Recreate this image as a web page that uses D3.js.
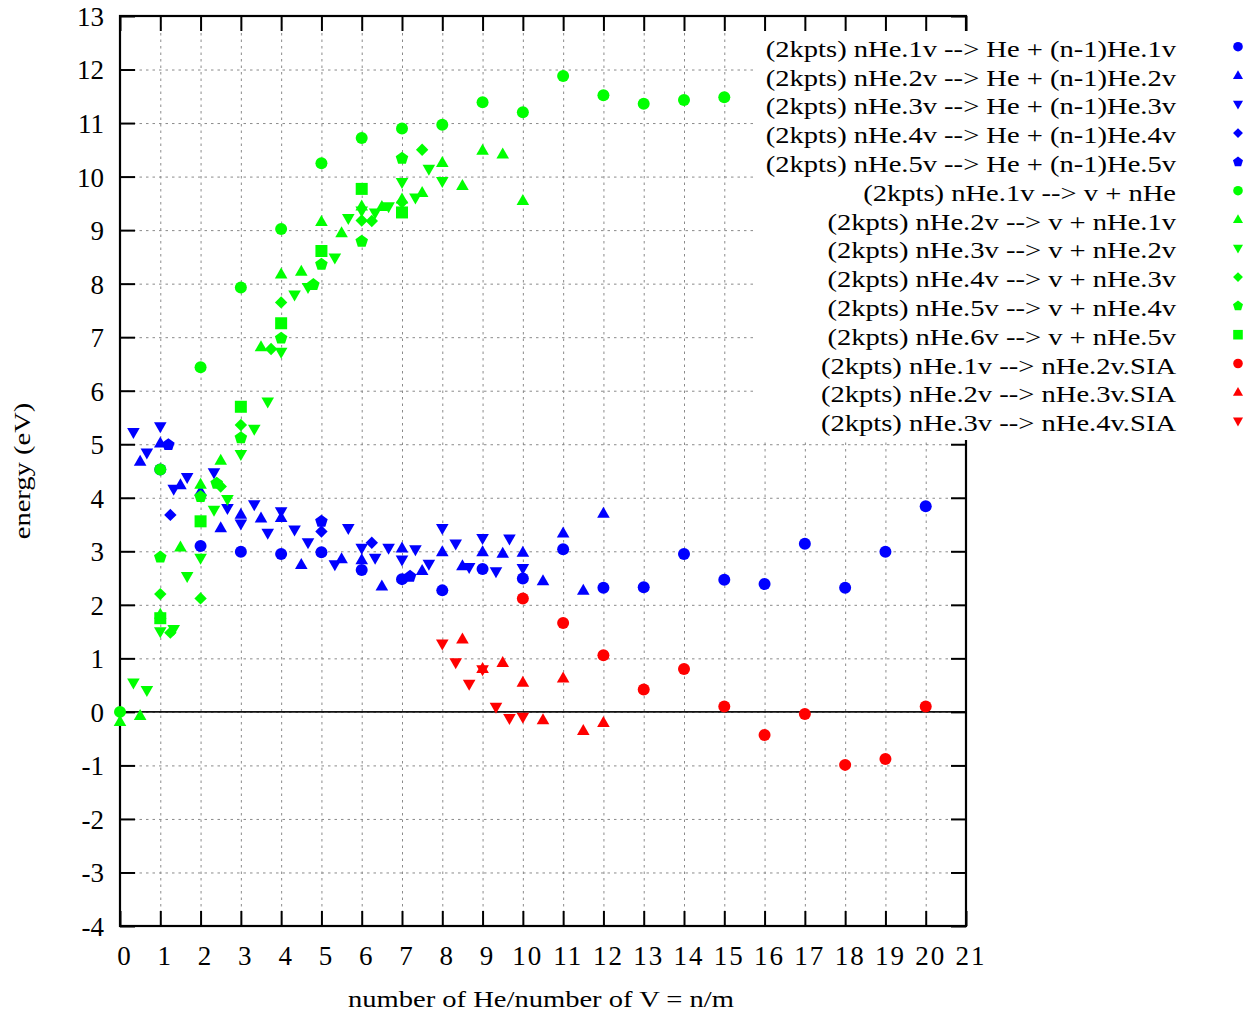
<!DOCTYPE html>
<html><head><meta charset="utf-8">
<script src="https://cdn.jsdelivr.net/npm/d3@7"></script>
<style>body{margin:0;background:#fff;} svg{display:block;} text{font-family:"Liberation Serif","Times New Roman",serif;fill:#000;}</style>
</head><body>
<svg id="c" width="1252" height="1014"></svg>
<script>
// ---------- data ----------
const xTickLabels = ["0","1","2","3","4","5","6","7","8","9","10","11","12","13","14","15","16","17","18","19","20","21"];
const xTickValues = [0,1,2,3,4,5,6,7,8,9,10,11,12,13,14,15,16,17,18,19,20,21];
const yTickLabels = ["13","12","11","10","9","8","7","6","5","4","3","2","1","0","-1","-2","-3","-4"];
const yTickValues = [13,12,11,10,9,8,7,6,5,4,3,2,1,0,-1,-2,-3,-4];

const seriesLabels = [
  "(2kpts) nHe.1v --> He + (n-1)He.1v",
  "(2kpts) nHe.2v --> He + (n-1)He.2v",
  "(2kpts) nHe.3v --> He + (n-1)He.3v",
  "(2kpts) nHe.4v --> He + (n-1)He.4v",
  "(2kpts) nHe.5v --> He + (n-1)He.5v",
  "(2kpts) nHe.1v --> v + nHe",
  "(2kpts) nHe.2v --> v + nHe.1v",
  "(2kpts) nHe.3v --> v + nHe.2v",
  "(2kpts) nHe.4v --> v + nHe.3v",
  "(2kpts) nHe.5v --> v + nHe.4v",
  "(2kpts) nHe.6v --> v + nHe.5v",
  "(2kpts) nHe.1v --> nHe.2v.SIA",
  "(2kpts) nHe.2v --> nHe.3v.SIA",
  "(2kpts) nHe.3v --> nHe.4v.SIA"
];
const seriesColors = ["#0000ff","#0000ff","#0000ff","#0000ff","#0000ff",
  "#00ff00","#00ff00","#00ff00","#00ff00","#00ff00","#00ff00",
  "#ff0000","#ff0000","#ff0000"];
const seriesShapes = ["circle","up","down","diamond","pentagon",
  "circle","up","down","diamond","pentagon","square",
  "circle","up","down"];

// [n/m, energy]
const blueCircle = [[1,4.53],[2,3.10],[3,2.99],[4,2.95],[5,2.98],[6,2.65],[7,2.48],[8,2.27],[9,2.67],[10,2.49],
  [11,3.04],[12,2.32],[13,2.33],[14,2.95],[15,2.47],[16,2.39],[17,3.14],[18,2.32],[19,2.99],[20,3.84]];
const blueUp = [[0.5,4.68],[1,5.02],[1.5,4.24],[2,4.12],[2.5,3.44],[3,3.69],[3.5,3.62],[4,3.63],[4.5,2.75],
  [5.5,2.86],[6,2.84],[6.5,2.35],[7,3.06],[7.5,2.64],[8,2.99],[8.5,2.73],[9,2.99],[9.5,2.96],[10,2.98],
  [10.5,2.45],[11,3.34],[11.5,2.27],[12,3.71]];
const blueDown = [[0.333,5.22],[0.667,4.84],[1,5.33],[1.333,4.16],[1.667,4.38],[2.333,4.47],[2.667,3.80],
  [3,3.51],[3.333,3.87],[3.667,3.34],[4,3.74],[4.333,3.40],[4.667,3.16],[5.333,2.75],[5.667,3.43],[6,3.06],
  [6.333,2.87],[6.667,3.06],[7,2.84],[7.333,3.03],[7.667,2.76],[8,3.43],[8.333,3.14],[8.667,2.70],[9,3.24],
  [9.333,2.62],[9.667,3.23],[10,2.68]];
const blueDiamond = [[1.25,3.68],[5,3.37],[6.25,3.16]];
const bluePentagon = [[1.2,4.99],[5,3.56],[7.2,2.53]];

const greenCircle = [[0,0],[1,4.53],[2,6.44],[3,7.93],[4,9.02],[5,10.25],[6,10.72],[7,10.90],[8,10.97],[9,11.39],
  [10,11.20],[11,11.88],[12,11.52],[13,11.36],[14,11.43],[15,11.48]];
const greenUp = [[0,-0.18],[0.5,-0.07],[1,1.82],[1.5,3.08],[2,4.25],[2.5,4.70],[3.5,6.82],[4,8.18],[4.5,8.23],
  [5,9.16],[5.5,8.95],[6,9.45],[6.5,9.44],[7,9.58],[7.5,9.70],[8,10.26],[8.5,9.83],[9,10.49],[9.5,10.42],[10,9.55]];
const greenDown = [[0.333,0.54],[0.667,0.40],[1,1.50],[1.333,1.54],[1.667,2.53],[2,2.87],[2.333,3.77],[2.667,3.97],
  [3,4.81],[3.333,5.28],[3.667,5.79],[4,6.72],[4.333,7.79],[4.667,7.93],[5.333,8.48],[5.667,9.22],[6,9.36],
  [6.333,9.32],[6.667,9.44],[7,9.89],[7.333,9.60],[7.667,10.14],[8,9.91]];
const greenDiamond = [[1,2.20],[1.25,1.48],[2,2.12],[2.5,4.21],[3,5.36],[3.75,6.78],[4,7.65],[6,9.18],[6.25,9.17],
  [7,9.52],[7.5,10.50]];
const greenPentagon = [[1,2.89],[2,4.02],[2.4,4.27],[3,5.12],[4,6.98],[4.8,7.98],[5,8.36],[6,8.79],[7,10.34]];
const greenSquare = [[1,1.75],[2,3.56],[3,5.70],[4,7.26],[5,8.61],[6,9.77],[7,9.33]];

const redCircle = [[10,2.12],[11,1.66],[12,1.06],[13,0.42],[14,0.80],[15,0.10],[16,-0.43],[17,-0.04],[18,-0.99],
  [19,-0.88],[20,0.10]];
const redUp = [[8.5,1.36],[9,0.81],[9.5,0.92],[10,0.55],[10.5,-0.15],[11,0.63],[11.5,-0.35],[12,-0.20]];
const redDown = [[8,1.27],[8.333,0.92],[8.667,0.52],[9,0.79],[9.333,0.09],[9.667,-0.12],[10,-0.10]];

const seriesData = [blueCircle,blueUp,blueDown,blueDiamond,bluePentagon,
  greenCircle,greenUp,greenDown,greenDiamond,greenPentagon,greenSquare,
  redCircle,redUp,redDown];

// ---------- drawing ----------
const svg = d3.select("#c");
const L=120, R=966, T=16, B=926;
const x = d3.scaleLinear().domain([0,21]).range([L,R]);
const y = d3.scaleLinear().domain([-4,13]).range([B,T]);

function shapePath(type, s){
  if(type==="circle"){ return d3.symbol(d3.symbolCircle, Math.PI*36*s*s)(); }
  if(type==="up"){ const w=6.3*s,h=11*s; return `M0,${-h*0.6}L${w},${h*0.4}L${-w},${h*0.4}Z`; }
  if(type==="down"){ const w=6.3*s,h=11*s; return `M0,${h*0.6}L${w},${-h*0.4}L${-w},${-h*0.4}Z`; }
  if(type==="diamond"){ const a=6.2*s; return `M0,${-a}L${a},0L0,${a}L${-a},0Z`; }
  if(type==="pentagon"){ const r=6.6*s; let p=""; for(let i=0;i<5;i++){const t=-Math.PI/2+i*2*Math.PI/5; p+=(i?"L":"M")+(r*Math.cos(t)).toFixed(2)+","+(r*Math.sin(t)).toFixed(2);} return p+"Z"; }
  if(type==="square"){ const a=6*s; return `M${-a},${-a}H${a}V${a}H${-a}Z`; }
}

// grid
const grid = svg.append("g").attr("class","grid");
grid.append("g").attr("transform",`translate(0,${B})`)
  .call(d3.axisBottom(x).tickValues(xTickValues.slice(1,-1)).tickSize(-(B-T)).tickFormat(""));
grid.append("g").attr("transform",`translate(${L},0)`)
  .call(d3.axisLeft(y).tickValues(yTickValues.slice(1,-1)).tickSize(-(R-L)).tickFormat(""));
grid.selectAll(".domain").remove();
grid.selectAll("line").attr("stroke","#8a8a8a").attr("stroke-width",1).attr("stroke-dasharray","2.5,4");

// zero axis
svg.append("line").attr("x1",L).attr("x2",R).attr("y1",y(0)).attr("y2",y(0))
  .attr("stroke","#111").attr("stroke-width",1.6);

// axes with inward ticks
const tickLen = 15;
const axB = svg.append("g").attr("transform",`translate(0,${B})`)
  .call(d3.axisBottom(x).tickValues(xTickValues).tickFormat((d,i)=>xTickLabels[i]).tickSizeInner(-tickLen).tickSizeOuter(0).tickPadding(20));
const axL = svg.append("g").attr("transform",`translate(${L},0)`)
  .call(d3.axisLeft(y).tickValues(yTickValues).tickFormat((d,i)=>yTickLabels[i]).tickSizeInner(-tickLen).tickSizeOuter(0).tickPadding(16));
const axT = svg.append("g").attr("transform",`translate(0,${T})`)
  .call(d3.axisTop(x).tickValues(xTickValues).tickFormat("").tickSizeInner(-tickLen).tickSizeOuter(0));
const axR = svg.append("g").attr("transform",`translate(${R},0)`)
  .call(d3.axisRight(y).tickValues(yTickValues).tickFormat("").tickSizeInner(-tickLen).tickSizeOuter(0));
[axB,axL,axT,axR].forEach(a=>{
  a.selectAll(".domain").remove();
  a.selectAll("line").attr("stroke","#000").attr("stroke-width",2);
  a.selectAll("text").attr("font-family","Liberation Serif").attr("font-size",27).attr("fill","#000");
});
axL.selectAll("text").attr("dy","0.35em");
axB.selectAll("text").attr("dx",4.5).attr("letter-spacing","2px");

// border
svg.append("rect").attr("x",L).attr("y",T).attr("width",R-L).attr("height",B-T)
  .attr("fill","none").attr("stroke","#000").attr("stroke-width",2.2);

// points
seriesData.forEach((data,si)=>{
  svg.append("g").selectAll("path").data(data).join("path")
    .attr("d",shapePath(seriesShapes[si],1))
    .attr("transform",d=>`translate(${x(d[0])},${y(d[1])})`)
    .attr("fill",seriesColors[si]);
});

// legend (opaque)
const sx = 1.19;
svg.append("rect").attr("x",757).attr("y",31).attr("width",1252-757).attr("height",409).attr("fill","#fff");
const leg = svg.append("g");
seriesLabels.forEach((lab,i)=>{
  const by = 56.7 + i*28.8;
  leg.append("text").attr("transform",`translate(1176,${by}) scale(${sx},1)`)
    .attr("text-anchor","end").attr("font-size",24).text(lab);
  leg.append("path").attr("d",shapePath(seriesShapes[i],0.8))
    .attr("transform",`translate(1238,${by-10})`).attr("fill",seriesColors[i]);
});

// axis titles
svg.append("text").attr("transform",`translate(541,1007) scale(${sx},1)`)
  .attr("text-anchor","middle").attr("font-size",24).text("number of He/number of V = n/m");
svg.append("text").attr("transform",`translate(30,471) rotate(-90) scale(${sx},1)`)
  .attr("text-anchor","middle").attr("font-size",24).text("energy (eV)");
</script>
</body></html>
